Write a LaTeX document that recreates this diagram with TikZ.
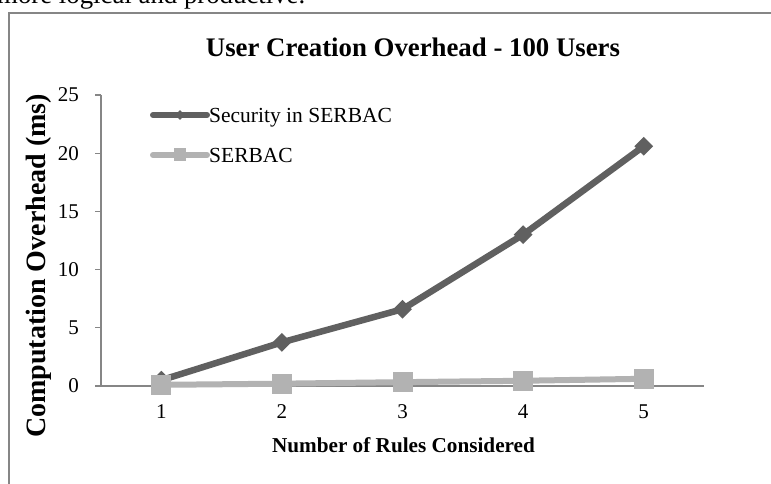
\documentclass[tikz,border=0pt]{standalone}
\usepackage{fontspec}
\setmainfont{Liberation Serif}
\usetikzlibrary{shapes.geometric}
\definecolor{framegray}{RGB}{134,134,134}
\definecolor{axisgray}{RGB}{134,134,134}
\definecolor{secgray}{RGB}{96,96,96}
\definecolor{serbgray}{RGB}{178,178,178}
\begin{document}
\begin{tikzpicture}[x=1pt,y=-1pt,
  axisline/.style={draw=axisgray, line width=1.3pt},
  ticklbl/.style={font=\fontsize{21}{25}\selectfont, inner sep=0pt},
  legtext/.style={font=\fontsize{21.5}{25}\selectfont, inner sep=0pt, anchor=base west},
  secline/.style={draw=secgray, line width=6.5pt, line join=round, line cap=round},
  serbline/.style={draw=serbgray, line width=6pt, line join=round, line cap=round},
  secmark/.style={diamond, fill=secgray, inner sep=0pt, minimum width=19pt, minimum height=19pt},
  serbmark/.style={rectangle, fill=serbgray, inner sep=0pt, minimum width=20pt, minimum height=20pt},
  secmarksmall/.style={diamond, fill=secgray, inner sep=0pt, minimum width=10pt, minimum height=10pt},
  serbmarksmall/.style={rectangle, fill=serbgray, inner sep=0pt, minimum width=12pt, minimum height=13pt}]
\useasboundingbox (0,0) rectangle (771,484);
\clip (0,0) rectangle (771,484);
\fill[white] (0,0) rectangle (771,484);

% text of the page above the chart
\node[anchor=base west, inner sep=0pt, font=\fontsize{26.8}{30}\selectfont] (prose) at (-3,4) {more logical and productive.};

% chart frame
\draw[framegray, line width=2pt] (9,13) rectangle (800,520);

% title
\node[anchor=base, inner sep=0pt, font=\bfseries\fontsize{26.8}{30}\selectfont] (title) at (413,57) {User Creation Overhead - 100 Users};

% axes
\coordinate (ytop) at (101,95);
\coordinate (orig) at (101,386);
\coordinate (xend) at (704,386);
\draw[axisline] (ytop) -- (orig) -- (xend);
\foreach \v in {0,5,10,15,20,25} {
  \coordinate (tk\v) at (101,386-11.64*\v);
  \coordinate (tl\v) at (95,386-11.64*\v);
  \draw[axisline] (tl\v) -- (tk\v);
  \node[ticklbl, anchor=east] (yl\v) at (79,386-11.64*\v) {\v};
}
\foreach \i in {1,...,5} {
  \node[ticklbl, anchor=base] (xl\i) at ({161.3+120.6*(\i-1)},418) {\i};
}

% axis titles
\node[anchor=base, inner sep=0pt, font=\bfseries\fontsize{21.2}{25}\selectfont] (xtitle) at (403.5,452) {Number of Rules Considered};
\node[anchor=base, rotate=90, inner sep=0pt, font=\bfseries\fontsize{28}{32}\selectfont] (ytitle) at (45,266) {Computation Overhead (ms)};

% data points
\coordinate (s1) at (161.3,{386-11.64*0.5});
\coordinate (s2) at (281.9,{386-11.64*3.75});
\coordinate (s3) at (402.5,{386-11.64*6.6});
\coordinate (s4) at (523.1,{386-11.64*13.0});
\coordinate (s5) at (643.7,{386-11.64*20.6});
\coordinate (b1) at (161.3,{386-11.64*0.1});
\coordinate (b2) at (281.9,{386-11.64*0.2});
\coordinate (b3) at (402.5,{386-11.64*0.33});
\coordinate (b4) at (523.1,{386-11.64*0.45});
\coordinate (b5) at (643.7,{386-11.64*0.62});

\draw[secline] (s1) -- (s2) -- (s3) -- (s4) -- (s5);
\foreach \k in {1,...,5} { \node[secmark] (sm\k) at (s\k) {}; }
\draw[serbline] (b1) -- (b2) -- (b3) -- (b4) -- (b5);
\foreach \k in {1,...,5} { \node[serbmark] (bm\k) at (b\k) {}; }

% legend
\coordinate (la1) at (153,115);
\coordinate (lb1) at (207,115);
\coordinate (la2) at (153,155);
\coordinate (lb2) at (207,155);
\draw[secline, line width=6pt] (la1) -- (lb1);
\node[secmarksmall] (lm1) at (180,115) {};
\node[legtext] (lt1) at (209,123) {Security in SERBAC};
\draw[serbline] (la2) -- (lb2);
\node[serbmarksmall] (lm2) at (180,155) {};
\node[legtext] (lt2) at (209,163) {SERBAC};
\end{tikzpicture}
\end{document}
